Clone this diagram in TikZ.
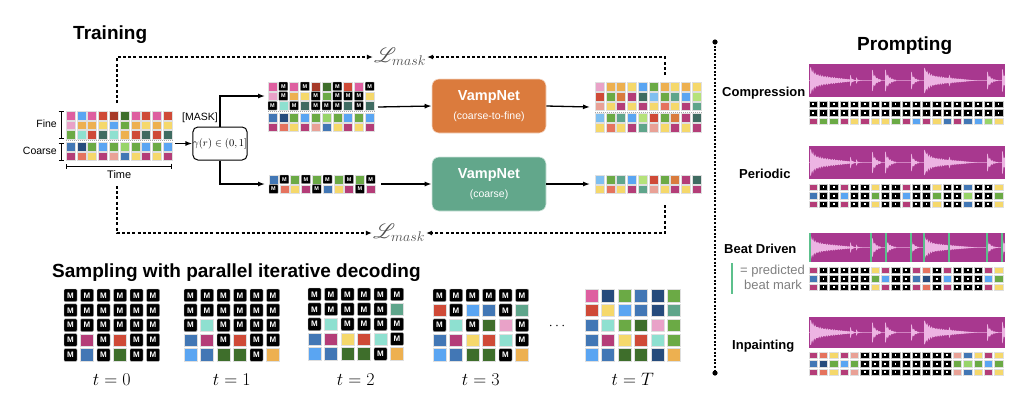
\documentclass[tikz,border=0pt]{standalone}
\usepackage{fix-cm}
\usepackage{fontspec}
\setmainfont{Liberation Sans}
\usepackage{mathrsfs}
\usetikzlibrary{arrows.meta}
\definecolor{pk}{HTML}{DE5FA0}
\definecolor{bl}{HTML}{5AA5F2}
\definecolor{rd}{HTML}{CF4A37}
\definecolor{dr}{HTML}{A63A28}
\definecolor{dg}{HTML}{3E6E2B}
\definecolor{gn}{HTML}{6BAA45}
\definecolor{lg}{HTML}{98D469}
\definecolor{yl}{HTML}{F5D86B}
\definecolor{og}{HTML}{EDB050}
\definecolor{lp}{HTML}{E9A2C8}
\definecolor{cy}{HTML}{8EE0D0}
\definecolor{te}{HTML}{3F6B61}
\definecolor{mb}{HTML}{4277B5}
\definecolor{db}{HTML}{264B7C}
\definecolor{mg}{HTML}{B43D78}
\definecolor{sa}{HTML}{E5735E}
\definecolor{ls}{HTML}{E9A196}
\definecolor{sg}{HTML}{5FA58B}
\definecolor{ot}{HTML}{D97B3D}
\definecolor{lb}{HTML}{7FBFF0}
\definecolor{li}{HTML}{B5E27A}
\definecolor{vorange}{HTML}{DB7B3D}
\definecolor{vgreen}{HTML}{62A78B}
\definecolor{wavebg}{HTML}{A8388F}
\definecolor{wavefg}{HTML}{EDB4E3}
\definecolor{beatc}{HTML}{5CC08C}
\def\Mtok{M}
\def\gsep{0}
\newcommand\maskT[4]{\filldraw[fill=black,draw=gray!50,line width=0.3pt,rounded corners=0.6pt] (#1,#2) rectangle ++(#3,#4);
  \node[text=white,font=\bfseries\fontsize{5.5}{5.5}\selectfont,inner sep=0pt] at (#1+#3/2,#2+#4/2) {M};}
\newcommand\maskS[4]{\filldraw[fill=black,draw=gray!50,line width=0.4pt,rounded corners=1pt] (#1,#2) rectangle ++(#3,#4);
  \node[text=white,font=\bfseries\fontsize{8}{8}\selectfont,inner sep=0pt] at (#1+#3/2,#2+#4/2) {M};}
\newcommand\maskP[4]{\filldraw[fill=black,draw=gray!45,line width=0.3pt] (#1,#2) rectangle ++(#3,#4);
  \fill[white] (#1+#3/2-0.9,#2+#4/2-0.9) rectangle ++(1.8,1.8);}
\newcommand\tgrid[8]{%
 \foreach \grow [count=\gr from 0] in {#8} {%
  \foreach \gc [count=\gk from 0] in \grow {%
   \pgfmathsetmacro\xx{#1+\gk*#3}%
   \pgfmathsetmacro\yy{#2+\gr*#4+(\gr>2)*\gsep}%
   \ifx\gc\Mtok #7{\xx}{\yy}{#5}{#6}%
   \else \filldraw[fill=\gc,draw=white!75!gray,line width=0.3pt] (\xx,\yy) rectangle ++(#5,#6);%
   \fi
  }%
 }%
}
\newcommand\wavebox[3]{%
 \begin{scope}
  \clip (#1,#2) rectangle ++(196,#3);
  \fill[wavebg] (#1,#2) rectangle ++(196,#3);
  \draw[wavefg!60!wavebg,line width=0.6pt] (#1,#2+#3/2) -- ++(196,0);
  \foreach \wa/\wA/\wt/\wS/\wL in {1/10/4/6.5/50,41/7/1.8/0/8,47/4/1.5/0/6,63/12/3.5/0/9,76/12/4/0/11,102/10/3/0/8,115/10/4/6/53,140/7/1.8/0/8,178/10/3.5/0/11,193/13/3/0/8}{%
   \fill[wavefg] plot[domain=0:\wL,samples=50] ({#1+\wa+\x},{#2+#3/2-#3/32*(\wA*exp(-\x/\wt)+\wS*(1-\x/\wL))*(0.78+0.22*sin(\x*150))}) -- plot[domain=\wL:0,samples=50] ({#1+\wa+\x},{#2+#3/2+#3/32*(\wA*exp(-\x/\wt)+\wS*(1-\x/\wL))*(0.78+0.22*sin(\x*150))}) -- cycle;
  }%
 \end{scope}
}
\begin{document}
\begin{tikzpicture}[x=1pt,y=-1pt,
  ttl/.style={font=\bfseries\fontsize{19}{19}\selectfont,inner sep=0pt,anchor=base west},
  lab/.style={font=\bfseries\fontsize{13}{13}\selectfont,inner sep=0pt,anchor=base west},
  sml/.style={font=\fontsize{10.5}{10.5}\selectfont,inner sep=0pt},
  arr/.style={line width=1.3pt,-{Latex[length=7pt,width=5pt]}},
  dsh/.style={line width=1.2pt,dash pattern=on 3pt off 2.2pt,-{Latex[length=6pt,width=5pt]}},
  brk/.style={line width=0.8pt,{Bar[width=5pt]}-{Bar[width=5pt]}},
  sepline/.style={gray!70,line width=1pt,dash pattern=on 1pt off 1pt},
  vamp/.style={rounded corners=7pt,minimum width=114pt,minimum height=54pt,align=center,text=white,draw=white!70!#1,fill=#1,line width=0.6pt},
  lm/.style={inner sep=1pt,text=black!70,font=\fontsize{20}{20}\selectfont},
  tlab/.style={inner sep=0pt,anchor=base,font=\fontsize{18}{18}\selectfont}]
\useasboundingbox (0,0) rectangle (1024,408);
% ---------------- Training ----------------
\node[ttl] (trainT) at (73,39) {Training};
\def\gsep{2}
\tgrid{66}{111}{10.8}{9.7}{9}{8.7}{\maskT}{{pk,bl,pk,rd,dr,dg,pk,rd,pk,rd},{lp,og,og,yl,bl,gn,og,yl,og,yl},{gn,cy,rd,te,cy,og,rd,te,rd,te},{mb,db,gn,bl,gn,lg,gn,bl,gn,bl},{mg,sa,yl,mg,ls,mb,yl,mg,yl,mg}}
\draw[sepline] (66,140.6) -- (172.2,140.6);
\tgrid{268}{82}{10.8}{9.7}{9}{8.7}{\maskT}{{pk,M,pk,M,dr,dg,M,rd,pk,M},{lp,M,og,yl,M,gn,M,M,M,yl},{M,cy,M,te,M,M,M,te,M,te},{mb,db,gn,bl,gn,lg,gn,bl,gn,bl},{mg,sa,yl,mg,ls,mb,yl,mg,yl,mg}}
\draw[sepline] (268,111.6) -- (374.2,111.6);
\tgrid{269}{175}{10.8}{9.7}{9}{8.7}{\maskT}{{mb,M,gn,M,gn,M,gn,M,gn,M},{M,sa,yl,mg,M,mb,yl,mg,M,mg}}
\tgrid{595}{82.5}{10.8}{9.7}{9}{8.7}{\maskT}{{lp,og,og,yl,bl,gn,og,yl,og,yl},{rd,gn,ot,mg,te,lb,gn,sg,bl,li},{ls,yl,mg,yl,mg,yl,sa,yl,mg,sg},{lb,gn,sg,bl,li,rd,gn,ot,mg,te},{yl,sa,yl,mg,sg,ls,yl,mg,yl,mg}}
\draw[sepline] (595,112.1) -- (701.2,112.1);
\tgrid{595}{175}{10.8}{9.7}{9}{8.7}{\maskT}{{lb,gn,sg,bl,li,rd,gn,ot,mg,te},{yl,sa,yl,mg,sg,ls,yl,mg,yl,mg}}
\def\gsep{0}
% brackets
\draw[brk] (61,111) -- (61,139);
\draw[brk] (61,142.5) -- (61,161);
\draw[brk] (66,166) -- (172.2,166);
\node[sml,anchor=base east] (fineL) at (57,127) {Fine};
\node[sml,anchor=base east] (coarseL) at (57,154) {Coarse};
\node[sml,anchor=base west,font=\fontsize{11}{11}\selectfont] (timeL) at (107,178) {Time};
% gamma box
\node[draw,rounded corners=5pt,line width=1pt,minimum width=54pt,minimum height=33pt,inner sep=0pt,font=\fontsize{10.5}{10.5}\selectfont] (gam) at (220,143.5) {$\gamma(r)\in(0,1]$};
\node[sml,anchor=base west] (maskL) at (182,120) {[MASK]};
\coordinate (inE) at (175,143.5);
\coordinate (mtW) at (265,96);
\coordinate (mbW) at (265,184);
\coordinate (mtE) at (378,107);
\coordinate (mbE) at (381,184);
\coordinate (otW) at (590,107);
\coordinate (obW) at (590,184);
\coordinate (otN) at (665,75);
\coordinate (obS) at (665,205);
\coordinate (inN) at (117,103);
\coordinate (inS) at (117,186);
\draw[arr] (inE) -- (gam.west);
\draw[arr] (gam.north) |- (mtW);
\draw[arr] (gam.south) |- (mbW);
% VampNet boxes
\node[vamp=vorange] (vn1) at (489,106) {{\bfseries\fontsize{14.5}{14.5}\selectfont VampNet}\\[7pt]{\fontsize{10.5}{10.5}\selectfont (coarse-to-fine)}};
\node[vamp=vgreen] (vn2) at (489,184) {{\bfseries\fontsize{14.5}{14.5}\selectfont VampNet}\\[7pt]{\fontsize{10.5}{10.5}\selectfont (coarse)}};
\draw[arr] (mtE) -- (vn1.west);
\draw[arr] (mbE) -- (vn2.west);
\draw[arr] (vn1.east) -- (otW);
\draw[arr] (vn2.east) -- (obW);
% losses
\node[lm] (Lt) at (400,57) {$\mathscr{L}_{mask}$};
\node[lm] (Lb) at (399,233) {$\mathscr{L}_{mask}$};
\draw[dsh] (inN) |- (Lt.west);
\draw[dsh] (otN) |- (Lt.east);
\draw[dsh] (inS) |- (Lb.west);
\draw[dsh] (obS) |- (Lb.east);
% ---------------- Sampling ----------------
\node[ttl] (sampT) at (52,277) {Sampling with parallel iterative decoding};
\tgrid{64}{289}{16.5}{14.9}{13}{12.7}{\maskS}{{M,M,M,M,M,M},{M,M,M,M,M,M},{M,M,M,M,M,M},{M,mg,M,rd,M,M},{M,mb,M,dg,M,M}}
\tgrid{184}{289}{16.5}{14.9}{13}{12.7}{\maskS}{{M,M,M,M,M,M},{M,M,M,M,M,M},{M,cy,M,M,M,M},{mb,mg,M,rd,M,M},{bl,mb,dg,dg,M,og}}
\tgrid{308}{288}{16.5}{14.9}{13}{12.7}{\maskS}{{M,M,M,M,M,M},{M,M,M,M,M,sg},{M,cy,M,M,M,M},{mb,mg,yl,rd,cy,M},{bl,mb,dg,dg,M,og}}
\tgrid{433}{289}{16.5}{14.9}{13}{12.7}{\maskS}{{M,M,M,M,M,M},{rd,M,bl,mb,M,sg},{M,cy,M,dg,lp,M},{mb,mg,yl,rd,cy,M},{bl,mb,dg,dg,M,og}}
\tgrid{585}{289}{16.5}{14.9}{13}{12.7}{\maskS}{{pk,db,gn,mb,db,gn},{rd,yl,bl,mb,db,sg},{mb,cy,gn,dg,lp,gn},{mb,mg,yl,rd,cy,gn},{bl,mb,dg,dg,db,og}}
\node[tlab] (t0) at (111.75,385) {$t=0$};
\node[tlab] (t1) at (231.75,385) {$t=1$};
\node[tlab] (t2) at (355.75,385) {$t=2$};
\node[tlab] (t3) at (480.75,385) {$t=3$};
\node[tlab] (tT) at (632.75,385) {$t=T$};
\node[inner sep=0pt,font=\fontsize{14}{14}\selectfont] (dots) at (557,326) {$\cdots$};
% ---------------- divider ----------------
\coordinate (dTop) at (715,42);
\coordinate (dBot) at (715,373);
\draw[line width=1.3pt,dash pattern=on 2pt off 1.6pt] (dTop) -- (dBot);
\fill (dTop) circle (2.6pt);
\fill (dBot) circle (2.6pt);
% ---------------- Prompting ----------------
\node[ttl] (promptT) at (857,50) {Prompting};
\wavebox{809}{64}{33}
\wavebox{809}{146}{33}
\wavebox{809}{233}{29}
\wavebox{809}{317}{31}
\foreach \bx in {1,62,77,102,115,140,178,193} \draw[beatc,line width=1.2pt] (809+\bx,233) -- ++(0,29);
\node[lab] (compL) at (722,96) {Compression};
\node[lab] (perL) at (739,178) {Periodic};
\node[lab] (beatL) at (724,253) {Beat Driven};
\node[lab] (inpL) at (732,349) {Inpainting};
\draw[beatc,line width=2.6pt] (732,263) -- (732,294);
\node[inner sep=0pt,anchor=base west,text=gray,font=\fontsize{13}{13}\selectfont] (predL) at (740,274) {= predicted};
\node[inner sep=0pt,anchor=base west,text=gray,font=\fontsize{13}{13}\selectfont] (bmL) at (744,289) {beat mark};
\tgrid{809}{101}{10.3}{8.5}{8.3}{6.5}{\maskP}{{M,M,M,M,M,M,M,M,M,M,M,M,M,M,M,M,M,M,M},{M,M,M,M,M,M,M,M,M,M,M,M,M,M,M,M,M,M,M},{mg,gn,gn,mg,yl,mg,yl,yl,gn,mg,bl,mg,yl,mb,mg,mb,bl,lg,yl}}
\tgrid{809}{184}{10.3}{8.5}{8.3}{6.5}{\maskP}{{mg,M,M,mg,M,M,yl,M,M,mg,M,M,yl,M,M,mb,M,M,yl},{mb,M,M,bl,M,M,gn,M,M,bl,M,M,gn,M,M,lg,M,M,gn},{mg,M,M,mg,M,M,yl,M,M,mg,M,M,yl,M,M,mb,M,M,yl}}
\tgrid{809}{267}{10.3}{8.5}{8.3}{6.5}{\maskP}{{mg,M,M,M,M,M,yl,mg,M,M,mg,sa,M,mg,M,M,M,mg,yl},{mb,M,M,M,M,M,gn,bl,M,M,mb,db,M,bl,M,M,M,bl,gn},{mg,M,M,M,M,M,yl,mg,M,M,mg,sa,M,mg,M,M,M,mg,yl}}
\tgrid{809}{352}{10.3}{8.5}{8.3}{6.5}{\maskP}{{mg,sa,yl,mg,ls,M,M,M,M,M,M,M,M,M,ls,mb,yl,mg,yl},{mb,db,gn,bl,gn,M,M,M,M,M,M,M,M,M,gn,lg,gn,bl,gn},{mg,sa,yl,mg,ls,M,M,M,M,M,M,M,M,M,ls,mb,yl,mg,yl}}
\end{tikzpicture}
\end{document}
